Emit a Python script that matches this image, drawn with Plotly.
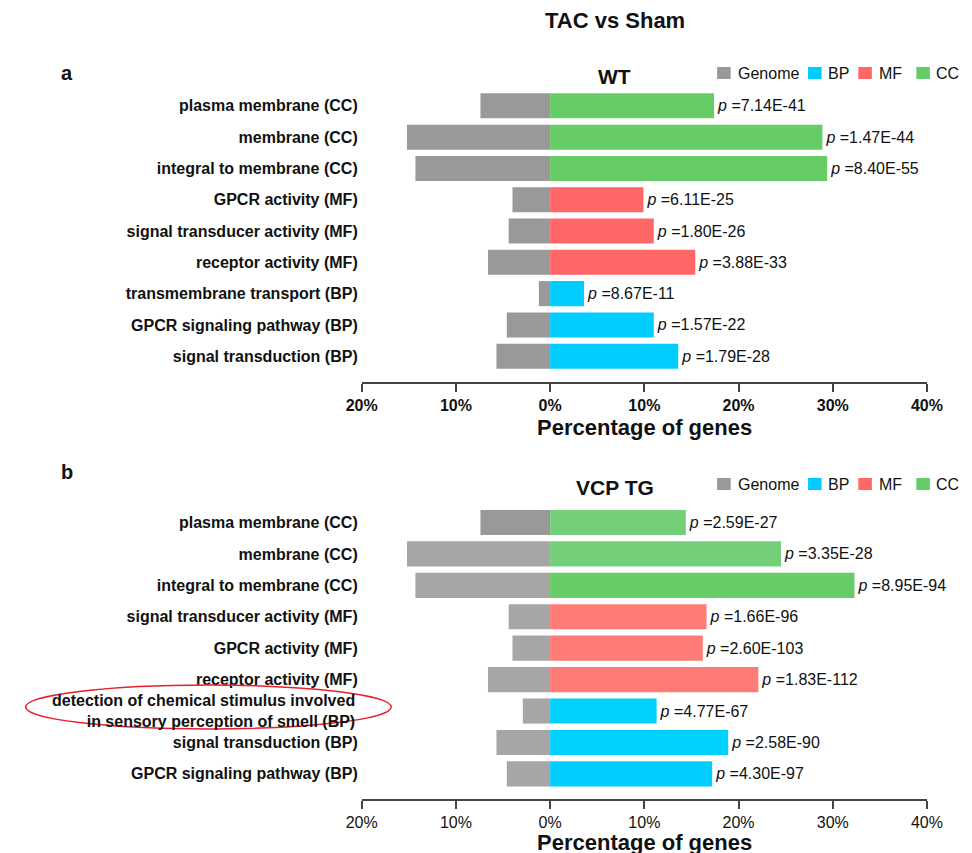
import plotly.graph_objects as go

FONT = "Liberation Sans, Arial, sans-serif"

# ---------------- data ----------------
types = ["CC", "CC", "CC", "MF", "MF", "MF", "BP", "BP", "BP"]

wt_categories = [
    "plasma membrane (CC)", "membrane (CC)", "integral to membrane (CC)",
    "GPCR activity (MF)", "signal transducer activity (MF)", "receptor activity (MF)",
    "transmembrane transport (BP)", "GPCR signaling pathway (BP)", "signal transduction (BP)",
]
wt_genome = [7.4, 15.2, 14.3, 4.0, 4.4, 6.6, 1.2, 4.6, 5.7]
wt_go = [17.4, 28.9, 29.4, 9.9, 11.0, 15.4, 3.6, 11.0, 13.6]
wt_p = ["7.14E-41", "1.47E-44", "8.40E-55", "6.11E-25", "1.80E-26",
        "3.88E-33", "8.67E-11", "1.57E-22", "1.79E-28"]

tg_categories = [
    "plasma membrane (CC)", "membrane (CC)", "integral to membrane (CC)",
    "signal transducer activity (MF)", "GPCR activity (MF)", "receptor activity (MF)",
    "detection of chemical stimulus involved<br>in sensory perception of smell (BP)",
    "signal transduction (BP)", "GPCR signaling pathway (BP)",
]
tg_genome = [7.4, 15.2, 14.3, 4.4, 4.0, 6.6, 2.9, 5.7, 4.6]
tg_go = [14.4, 24.5, 32.3, 16.6, 16.2, 22.1, 11.3, 18.9, 17.2]
tg_p = ["2.59E-27", "3.35E-28", "8.95E-94", "1.66E-96", "2.60E-103",
        "1.83E-112", "4.77E-67", "2.58E-90", "4.30E-97"]

tick_vals = [-20, -10, 0, 10, 20, 30, 40]
tick_text = ["20%", "10%", "0%", "10%", "20%", "30%", "40%"]

legend_labels = ["Genome", "BP", "MF", "CC"]
legend_colors = ["#999999", "#00CCFF", "#FF6666", "#66CC66"]

# per-bar colours (top panel uniform, bottom panel slightly varied as in source)
wt_genome_colors = ["#999999"] * 9
wt_go_colors = {"CC": ["#66CC66"] * 9, "MF": ["#FF6666"] * 9, "BP": ["#00CCFF"] * 9}
tg_genome_colors = ["#999999"] + ["#A6A6A6"] * 8
tg_go_colors = {
    "CC": ["#73CF78", "#73CF78", "#66CC66"] + ["#66CC66"] * 6,
    "MF": ["#FF7B75"] * 9,
    "BP": ["#00CCFF"] * 6 + ["#00D2FF", "#00D2FF", "#00CCFF"],
}

W, H = 972, 853
def px(x):
    return x / W
def py(y):
    return 1 - y / H

fig = go.Figure()

def add_panel(cats, genome, gov, pvals, gcol, gocols, xa, ya):
    fig.add_trace(go.Bar(
        y=cats, x=[-g for g in genome], orientation="h", width=0.8,
        marker=dict(color=gcol, line=dict(width=0)),
        xaxis=xa, yaxis=ya, showlegend=False, hoverinfo="skip",
    ))
    for t in ["BP", "MF", "CC"]:
        xs = [v if tt == t else None for v, tt in zip(gov, types)]
        txt = ["<i>p</i> =" + p if tt == t else "" for p, tt in zip(pvals, types)]
        fig.add_trace(go.Bar(
            y=cats, x=xs, orientation="h", width=0.8,
            marker=dict(color=gocols[t], line=dict(width=0)),
            text=txt, textposition="outside", constraintext="none",
            textfont=dict(family=FONT, size=16, color="#111111"),
            cliponaxis=False, xaxis=xa, yaxis=ya, showlegend=False,
            hoverinfo="skip",
        ))

add_panel(wt_categories, wt_genome, wt_go, wt_p, wt_genome_colors, wt_go_colors, "x", "y")
add_panel(tg_categories, tg_genome, tg_go, tg_p, tg_genome_colors, tg_go_colors, "x2", "y2")

x_dom = [px(357.5), px(942)]
common_x = dict(
    range=[-20, 40], tickmode="array", tickvals=tick_vals, ticktext=tick_text,
    showline=True, linecolor="#444444", linewidth=1.5, ticks="outside",
    ticklen=8, tickwidth=1.5, tickcolor="#444444", showgrid=False,
    zeroline=False, domain=x_dom,
)
fig.update_layout(
    xaxis=dict(**common_x, anchor="y",
               tickfont=dict(family=FONT, size=16, color="#111111", weight="bold")),
    xaxis2=dict(**common_x, anchor="y2",
                tickfont=dict(family=FONT, size=16, color="#111111")),
)

tg_ticktext = [c if i != 6 else "" for i, c in enumerate(tg_categories)]
common_y = dict(type="category", categoryorder="array", showline=False,
                ticks="", showgrid=False, zeroline=False,
                tickfont=dict(family=FONT, size=16, color="#111111", weight="bold"),
                ticklabelstandoff=3)
fig.update_layout(
    yaxis=dict(**common_y, categoryarray=wt_categories, range=[8.82, -0.5],
               domain=[py(381.9), py(90.2)], anchor="x"),
    yaxis2=dict(**common_y, categoryarray=tg_categories, range=[8.80, -0.5],
                domain=[py(799), py(506.8)], anchor="x2",
                tickmode="array", tickvals=tg_categories, ticktext=tg_ticktext),
)

ann = []
def text(x, y, s, size, bold=False, xanchor="center", color="#111111"):
    ann.append(dict(x=x, y=y, xref="paper", yref="paper", text=s, showarrow=False,
                    xanchor=xanchor, yanchor="middle",
                    font=dict(family=FONT, size=size, color=color,
                              weight="bold" if bold else "normal")))

text(px(619), py(20), "TAC vs Sham", 22, True)
text(px(53), py(73), "a", 20, True)
text(px(53), py(472), "b", 20, True)
text(px(619), py(76), "WT", 21, True)
text(px(619), py(487), "VCP TG", 21, True)
text(px(650), py(427), "Percentage of genes", 22, True)
text(px(650), py(842.5), "Percentage of genes", 22, True)

# two-line label for the long category, right aligned like the other labels
ann.append(dict(x=px(353), y=6, xref="paper", yref="y2", text=tg_categories[6],
                showarrow=False, xanchor="right", yanchor="middle", align="right",
                font=dict(family=FONT, size=16, color="#111111", weight="bold")))

shapes = []
# legends
sq_x = [725, 819, 871, 931]
tx_x = [745, 838, 890, 949]
for cy in [73, 484]:
    for lab, col, sx, tx in zip(legend_labels, legend_colors, sq_x, tx_x):
        shapes.append(dict(type="rect", xref="paper", yref="paper",
                           x0=px(sx), x1=px(sx + 14), y0=py(cy + 6), y1=py(cy - 6),
                           fillcolor=col, line=dict(width=0)))
        text(px(tx), py(cy), lab, 16, False, xanchor="left")

# red ellipse highlighting the label
shapes.append(dict(type="circle", xref="paper", yref="paper",
                   x0=px(10), x1=px(388), y0=py(729), y1=py(685),
                   line=dict(color="#E8202A", width=1.5)))

fig.update_layout(
    width=W, height=H, margin=dict(l=0, r=0, t=0, b=0),
    paper_bgcolor="white", plot_bgcolor="white",
    barmode="overlay", showlegend=False,
    annotations=ann, shapes=shapes,
    font=dict(family=FONT, color="#111111"),
)

fig.write_html("out.html")
